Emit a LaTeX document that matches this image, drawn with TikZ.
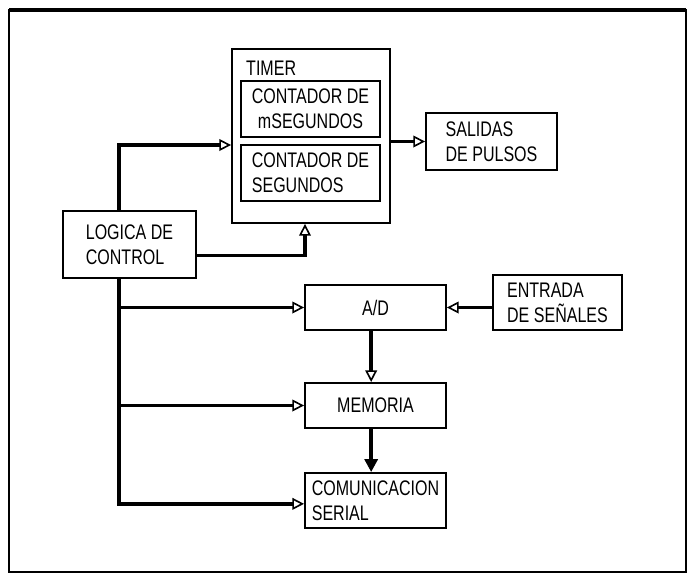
\documentclass[tikz,border=0pt]{standalone}
\usepackage{fontspec}
\setmainfont{Liberation Sans}[FakeStretch=0.76]
\usetikzlibrary{arrows.meta}

\begin{document}
\begin{tikzpicture}[x=0.03cm, y=-0.03cm,
    font=\fontsize{18}{21.5}\selectfont,
    blk/.style={draw, line width=1.6pt, inner sep=0pt, align=left},
    bus/.style={line width=3.2pt,
      -{Triangle[open, length=10pt, width=10pt, line width=1.4pt]}},
    sig/.style={line width=2.2pt,
      -{Triangle[open, length=10pt, width=10pt, line width=1.4pt]}}]
  \useasboundingbox (0,0) rectangle (689,575);
  % frame
  \draw[line width=2pt] (9,10) rectangle (686,572);
  \draw[line width=4pt] (9,10) -- (686,10);
  % timer and its two counters
  \node[blk, minimum width=4.74cm, minimum height=5.22cm] (timer) at (311,136) {};
  \node[anchor=west, inner sep=0pt] (timertxt) at (246,68) {TIMER};
  \node[blk, align=center, minimum width=4.17cm, minimum height=1.68cm] (mseg) at (310.5,109)
    {CONTADOR DE\\mSEGUNDOS};
  \node[blk, minimum width=4.17cm, minimum height=1.68cm] (seg) at (310.5,173)
    {CONTADOR DE\\SEGUNDOS};
  \node[blk, minimum width=3.93cm, minimum height=1.71cm] (salidas) at (491.5,141.5)
    {SALIDAS\\DE PULSOS};
  % control, conversion, memory
  \node[blk, minimum width=3.99cm, minimum height=2.01cm] (logica) at (129.5,244.5)
    {LOGICA DE\\CONTROL};
  \node[blk, minimum width=4.23cm, minimum height=1.35cm] (ad) at (375.5,307.5) {A/D};
  \node[blk, minimum width=3.87cm, minimum height=1.65cm] (entrada) at (557.5,302.5)
    {ENTRADA\\DE SEÑALES};
  \node[blk, minimum width=4.23cm, minimum height=1.35cm] (memoria) at (375.5,405.5) {MEMORIA};
  \node[blk, minimum width=4.23cm, minimum height=1.65cm] (com) at (375.5,500.5)
    {COMUNICACION\\SERIAL};
  % connectors
  \coordinate (busx) at (119,0);
  \draw[bus] (logica.north -| busx) |- ([yshift=-0.27cm]timer.west);
  \draw[bus] ([yshift=-0.33cm]logica.east) -| ([xshift=-0.18cm]timer.south);
  \draw[bus] (timer.east |- salidas.west) -- (salidas.west);
  \draw[bus] (logica.south -| busx) |- ([yshift=-0.1cm]com.west);
  \draw[bus] (busx |- ad.west) -- (ad.west);
  \draw[bus] (busx |- memoria.west) -- (memoria.west);
  \draw[sig] (entrada.west |- ad.east) -- (ad.east);
  \draw[bus] ([xshift=-0.13cm]ad.south) -- ([xshift=-0.13cm]memoria.north);
  \draw[line width=3.2pt, -{Triangle[length=11pt, width=11pt]}]
    ([xshift=-0.13cm]memoria.south) -- ([xshift=-0.13cm]com.north);
\end{tikzpicture}
\end{document}
